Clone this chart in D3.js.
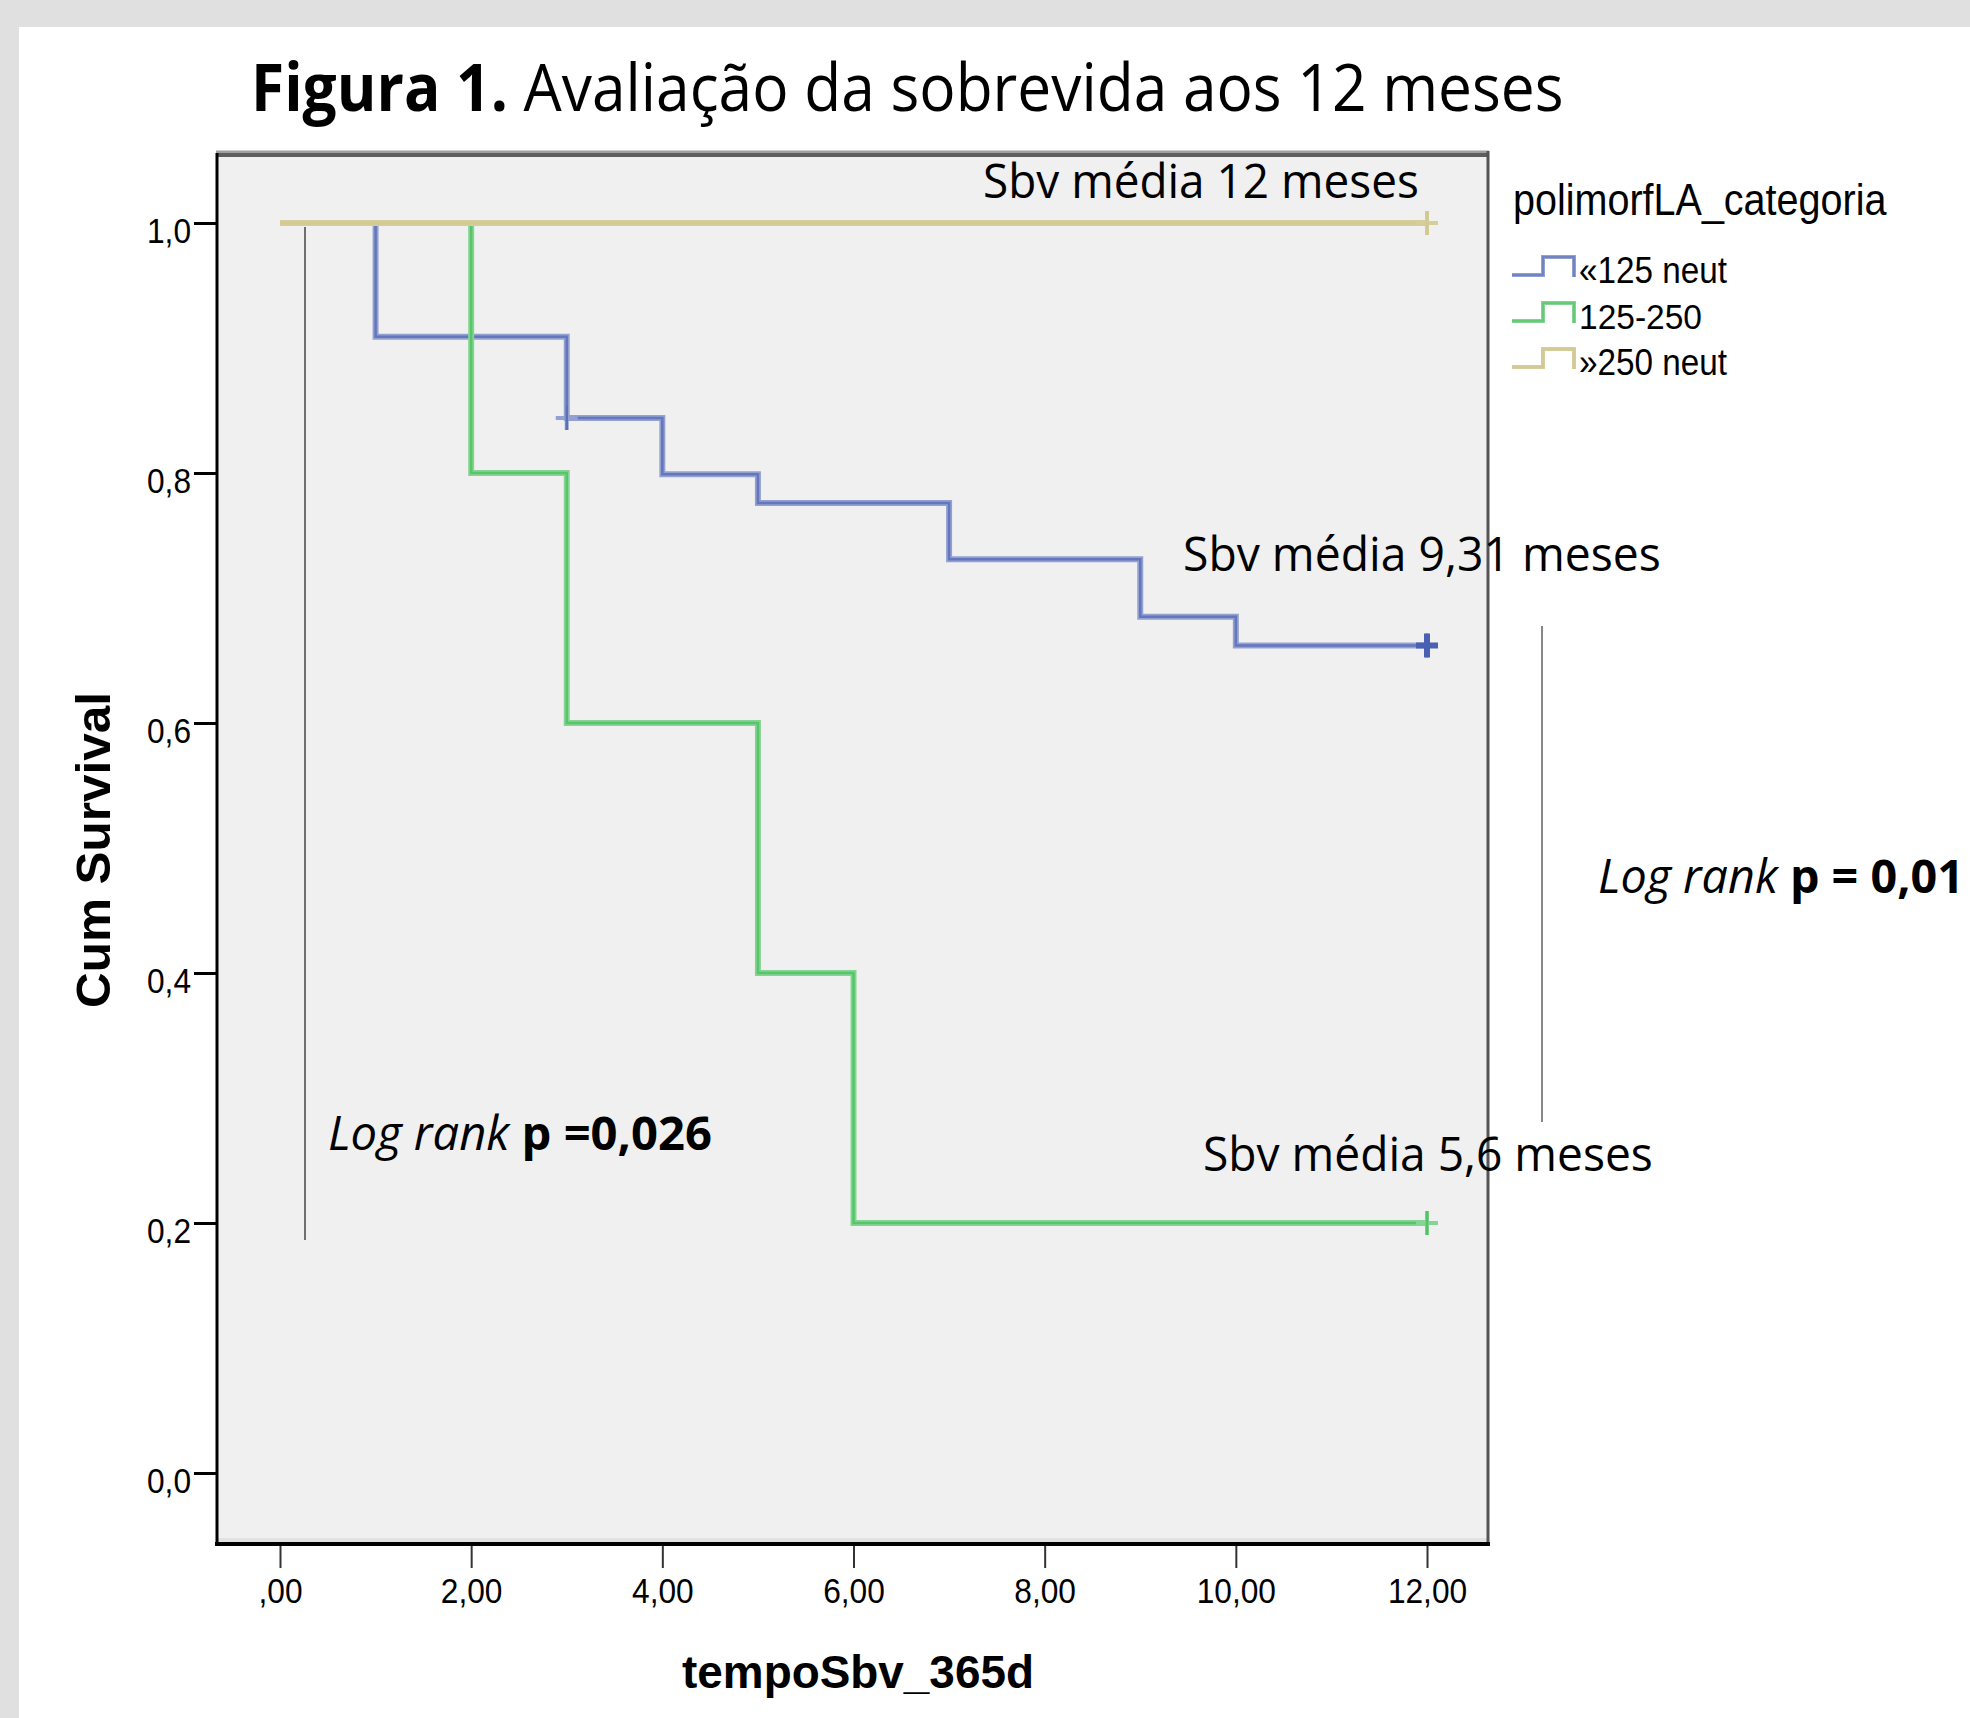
<!DOCTYPE html>
<html>
<head>
<meta charset="utf-8">
<script src="https://cdn.jsdelivr.net/npm/d3@7"></script>
<style>
  body { margin: 0; background: #e0e0e0; }
  svg { display: block; }
</style>
</head>
<body>
<div id="chartArea"></div>
<script>
// survival data
let blueTimes = [0, 1, 3, 4, 5, 7, 9, 10, 12];
let blueSurv  = [1, 0.909, 0.844, 0.799, 0.776, 0.731, 0.685, 0.662, 0.662];
let greenTimes = [0, 2, 3, 5, 6, 12];
let greenSurv  = [1, 0.8, 0.6, 0.4, 0.2, 0.2];
let tanTimes = [0, 12];
let tanSurv  = [1, 1];

// censored cases (time, survival)
let blueCensorT = [3, 12];
let blueCensorS = [0.844, 0.662];
let greenCensorT = [12];
let greenCensorS = [0.2];
let tanCensorT = [12];
let tanCensorS = [1];

let categories = ['«125 neut', '125-250', '»250 neut'];
let xTicks = [0, 2, 4, 6, 8, 10, 12];
let xTickLabels = [',00', '2,00', '4,00', '6,00', '8,00', '10,00', '12,00'];
let yTicks = [0, 0.2, 0.4, 0.6, 0.8, 1.0];
let yTickLabels = ['0,0', '0,2', '0,4', '0,6', '0,8', '1,0'];

let W = 1970, H = 1718;
let plot = { left: 217, top: 155, right: 1488, bottom: 1543 };

let svg = d3.select('#chartArea').append('svg')
    .attr('width', W)
    .attr('height', H);

svg.append('rect').attr('width', W).attr('height', H).attr('fill', '#e0e0e0');
svg.append('rect').attr('x', 19).attr('y', 27).attr('width', W - 19).attr('height', H - 27).attr('fill', '#fff');

let xScale = d3.scaleLinear().domain([0, 12]).range([280, 1427]);
let yScale = d3.scaleLinear().domain([0, 1]).range([1473, 223]);

// squeeze a text group horizontally to a target width
function fitText(g, tx, ty, w, extra) {
    let bw = g.node().getBBox().width;
    g.attr('transform', 'translate(' + tx + ',' + ty + ')' + (extra || '') + ' scale(' + (w / bw) + ',1)');
}

// plot background + frame
svg.append('rect')
    .attr('x', plot.left).attr('y', plot.top)
    .attr('width', plot.right - plot.left).attr('height', plot.bottom - plot.top)
    .attr('fill', '#f0f0f0');
svg.append('rect')
    .attr('x', plot.left).attr('y', plot.bottom - 5)
    .attr('width', plot.right - plot.left).attr('height', 5)
    .attr('fill', '#e2e2e2');

// axes
let yAxis = svg.append('g')
    .attr('transform', 'translate(' + plot.left + ',0)')
    .call(d3.axisLeft(yScale).tickValues(yTicks).tickSize(23)
        .tickFormat((d, i) => yTickLabels[i]));
yAxis.select('.domain').remove();
yAxis.selectAll('line').attr('stroke', '#000').attr('stroke-width', 3);
yAxis.selectAll('text')
    .attr('x', 0).attr('dy', null)
    .attr('transform', 'translate(-26,19) scale(0.88,1)')
    .attr('fill', '#000')
    .style('font-family', '"Liberation Sans", Arial, sans-serif')
    .style('font-size', '36px');

let xAxis = svg.append('g')
    .attr('transform', 'translate(0,' + plot.bottom + ')')
    .call(d3.axisBottom(xScale).tickValues(xTicks).tickSize(25)
        .tickFormat((d, i) => xTickLabels[i]));
xAxis.select('.domain').remove();
xAxis.selectAll('line').attr('stroke', '#333').attr('stroke-width', 2);
xAxis.selectAll('text')
    .attr('y', 0).attr('dy', null)
    .attr('transform', 'translate(0,60) scale(0.88,1)')
    .attr('fill', '#000')
    .style('font-family', '"Liberation Sans", Arial, sans-serif')
    .style('font-size', '36px');

// frame lines
svg.append('line').attr('x1', plot.left - 1).attr('x2', plot.right + 1)
    .attr('y1', plot.top - 3).attr('y2', plot.top - 3).attr('stroke', '#a0a0a0').attr('stroke-width', 3);
svg.append('line').attr('x1', plot.left - 1).attr('x2', plot.right + 1)
    .attr('y1', plot.top).attr('y2', plot.top).attr('stroke', '#5e5e5e').attr('stroke-width', 4);
svg.append('line').attr('x1', plot.right).attr('x2', plot.right)
    .attr('y1', plot.top - 4).attr('y2', plot.bottom + 2).attr('stroke', '#555').attr('stroke-width', 3);
svg.append('line').attr('x1', plot.left).attr('x2', plot.left)
    .attr('y1', plot.top - 2).attr('y2', plot.bottom + 2).attr('stroke', '#000').attr('stroke-width', 3);
svg.append('line').attr('x1', plot.left - 2).attr('x2', plot.right + 2)
    .attr('y1', plot.bottom + 1).attr('y2', plot.bottom + 1).attr('stroke', '#000').attr('stroke-width', 4);

// survival curves
let step = d3.line()
    .x(d => xScale(d[0]))
    .y(d => yScale(d[1]))
    .curve(d3.curveStepAfter);

let series = [
    { t: blueTimes, s: blueSurv, ct: blueCensorT, cs: blueCensorS, light: '#93a1d0', dark: '#4a60b3' },
    { t: greenTimes, s: greenSurv, ct: greenCensorT, cs: greenCensorS, light: '#86d495', dark: '#3fbf50' },
    { t: tanTimes, s: tanSurv, ct: tanCensorT, cs: tanCensorS, light: '#d5cd9a', dark: '#cfc78e' }
];

series.forEach(sr => {
    let pts = sr.t.map((t, i) => [t, sr.s[i]]);
    svg.append('path')
        .attr('d', step(pts))
        .attr('fill', 'none')
        .attr('stroke', sr.light)
        .attr('stroke-width', 6);
    svg.append('path')
        .attr('d', step(pts))
        .attr('fill', 'none')
        .attr('stroke', sr.dark)
        .attr('stroke-width', 2.5)
        .attr('stroke-opacity', 0.65);

    // censor marks
    sr.ct.forEach((t, i) => {
        let cx = xScale(t), cy = yScale(sr.cs[i]);
        let heavy = (sr === series[0] && t === 12);
        let g = svg.append('g')
            .attr('stroke', heavy ? sr.dark : sr.light)
            .attr('stroke-width', heavy ? 6 : 4);
        g.append('line').attr('x1', cx - 11).attr('x2', cx + 11).attr('y1', cy).attr('y2', cy);
        g.append('line').attr('x1', cx).attr('x2', cx).attr('y1', cy - 12).attr('y2', cy + 12);
        g.append('line').attr('x1', cx).attr('x2', cx).attr('y1', cy - 12).attr('y2', cy + 12)
            .attr('stroke', sr.dark).attr('stroke-width', 2.5).attr('stroke-opacity', 0.75);
    });
});

// annotation lines
svg.append('line').attr('x1', 305).attr('x2', 305).attr('y1', 227).attr('y2', 1240)
    .attr('stroke', '#444').attr('stroke-width', 1.5);
svg.append('line').attr('x1', 1542).attr('x2', 1542).attr('y1', 626).attr('y2', 1122)
    .attr('stroke', '#888').attr('stroke-width', 2);

let calibri = '"Open Sans", "Noto Sans", sans-serif';

// title
let title = svg.append('g');
let tt = title.append('text').style('font-family', calibri).style('font-size', '66px').attr('fill', '#000');
tt.append('tspan').style('font-weight', 'bold').text('Figura 1.');
tt.append('tspan').text(' Avaliação da sobrevida aos 12 meses');
fitText(title, 251, 111, 1313);

// annotations inside and beside the plot
function note(parts, x, y, w) {
    let g = svg.append('g');
    let t = g.append('text').style('font-family', calibri).style('font-size', '47px').attr('fill', '#000');
    parts.forEach(p => {
        t.append('tspan')
            .style('font-style', p.i ? 'italic' : 'normal')
            .style('font-weight', p.b ? 'bold' : 'normal')
            .text(p.s);
    });
    fitText(g, x, y, w);
}
note([{ s: 'Sbv média 12 meses' }], 983, 198, 436);
note([{ s: 'Sbv média 9,31 meses' }], 1183, 571, 478);
note([{ s: 'Sbv média 5,6 meses' }], 1203, 1171, 450);
note([{ s: 'Log rank', i: true }, { s: ' p =0,026', b: true }], 328, 1150, 384);
note([{ s: 'Log rank', i: true }, { s: ' p = 0,01', b: true }], 1598, 893, 366);

// axis titles
let yt = svg.append('g');
yt.append('text').attr('text-anchor', 'middle')
    .style('font-family', '"Liberation Sans", Arial, sans-serif')
    .style('font-size', '48px').style('font-weight', 'bold')
    .text('Cum Survival');
fitText(yt, 110, 850, 316, ' rotate(-90)');

let xt = svg.append('g');
xt.append('text').attr('text-anchor', 'middle')
    .style('font-family', '"Liberation Sans", Arial, sans-serif')
    .style('font-size', '46px').style('font-weight', 'bold')
    .text('tempoSbv_365d');
fitText(xt, 858, 1688, 352);

// legend
let lg = svg.append('g');
lg.append('text').style('font-family', '"Liberation Sans", Arial, sans-serif')
    .style('font-size', '44px').text('polimorfLA_categoria');
fitText(lg, 1513, 215, 374);

let legendWidths = [148, 123, 148];
categories.forEach((c, i) => {
    let sr = series[i];
    let base = 283 + i * 46;
    let low = base - 8, high = base - 26;
    svg.append('path')
        .attr('d', 'M1512,' + low + 'H1543V' + high + 'H1574V' + (low + 2))
        .attr('fill', 'none').attr('stroke', sr.light).attr('stroke-width', 4);
    svg.append('path')
        .attr('d', 'M1512,' + low + 'H1543V' + high + 'H1574V' + (low + 2))
        .attr('fill', 'none').attr('stroke', sr.dark).attr('stroke-width', 1.5).attr('stroke-opacity', 0.6);
    let g = svg.append('g');
    g.append('text').style('font-family', '"Liberation Sans", Arial, sans-serif')
        .style('font-size', '36px').text(c);
    fitText(g, 1579, base, legendWidths[i]);
});
</script>
</body>
</html>
